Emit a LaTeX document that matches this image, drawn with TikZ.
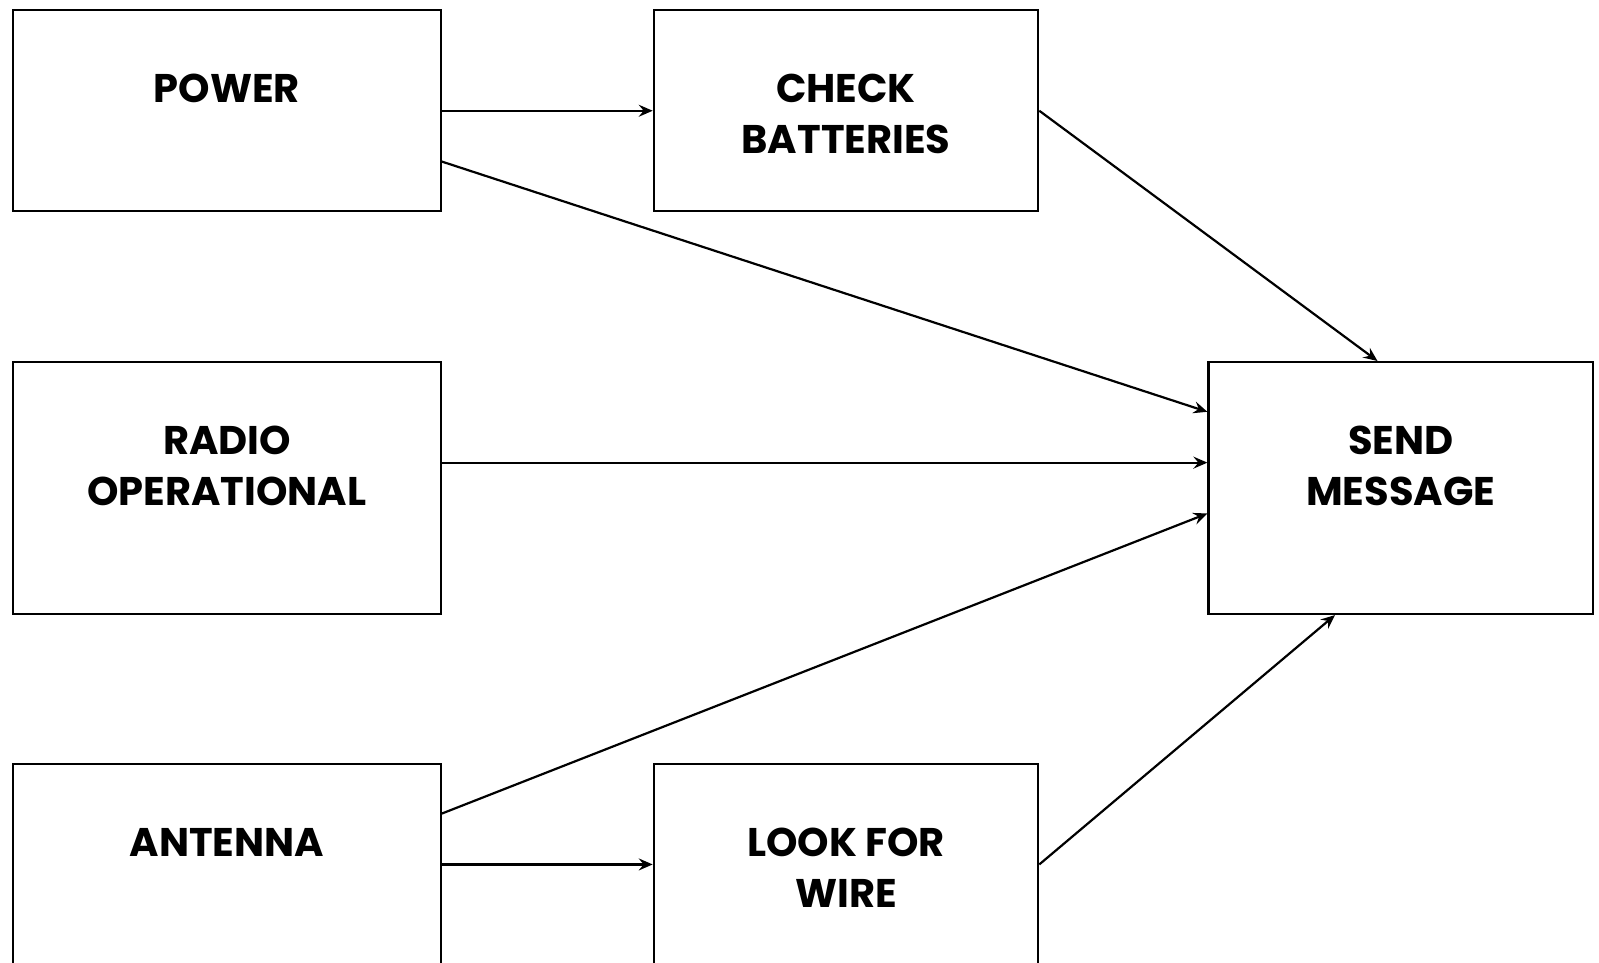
\documentclass[tikz,border=0pt]{standalone}
\usepackage{fontspec}
\setmainfont{Poppins}
\usetikzlibrary{calc,arrows.meta}
\begin{document}
\begin{tikzpicture}[x=1pt,y=-1pt,
  box/.style={draw=black, line width=2.2pt, inner sep=0pt, anchor=north west},
  wide/.style={minimum width=427.3pt},
  narrow/.style={minimum width=384.4pt},
  short/.style={minimum height=200.9pt},
  tall/.style={minimum height=251.9pt},
  lbl/.style={anchor=north, align=center, inner sep=0pt,
    font=\fontsize{40}{51}\selectfont\bfseries},
  link/.style={line width=2.2pt, -{Stealth[length=14pt,width=12pt,inset=5pt]}}
]
\useasboundingbox (0,0) rectangle (1599,963);
\clip (0,0) rectangle (1599,963);

% boxes
\node[box, wide, short]   (power)   at (12.2,9.2)    {};
\node[box, narrow, short] (check)   at (652.7,9.2)   {};
\node[box, wide, tall]    (radio)   at (12.2,361)    {};
\node[box, narrow, tall]  (send)    at (1207.4,361)  {};
\node[box, wide, tall]    (antenna) at (12.2,762.8)  {};
\node[box, narrow, tall]  (look)    at (652.7,762.8) {};

% labels, set from the top of each box
\node[lbl] (powerlbl)   at ($(power.north)+(0,65)$)   {POWER};
\node[lbl] (checklbl)   at ($(check.north)+(0,65)$)   {CHECK\\BATTERIES};
\node[lbl] (radiolbl)   at ($(radio.north)+(0,65)$)   {RADIO\\OPERATIONAL};
\node[lbl] (sendlbl)    at ($(send.north)+(0,65)$)    {SEND\\MESSAGE};
\node[lbl] (antennalbl) at ($(antenna.north)+(0,65)$) {ANTENNA};
\node[lbl] (looklbl)    at ($(look.north)+(0,65)$)    {LOOK FOR\\WIRE};

% connectors
\draw[link] (power.east) -- (check.west);
\draw[link] ($(power.north east)!0.75!(power.south east)$) -- ($(send.north west)!0.2!(send.south west)$);
\draw[link] (check.east) -- ($(send.north west)!0.44!(send.north east)$);
\draw[link] ($(radio.north east)!0.4!(radio.south east)$) -- ($(send.north west)!0.4!(send.south west)$);
\draw[link] ($(antenna.north east)!0.2!(antenna.south east)$) -- ($(send.north west)!0.6!(send.south west)$);
\draw[link] ($(antenna.north east)!0.4!(antenna.south east)$) -- ($(look.north west)!0.4!(look.south west)$);
\draw[link] ($(look.north east)!0.4!(look.south east)$) -- ($(send.south west)!0.33!(send.south east)$);
\end{tikzpicture}
\end{document}
